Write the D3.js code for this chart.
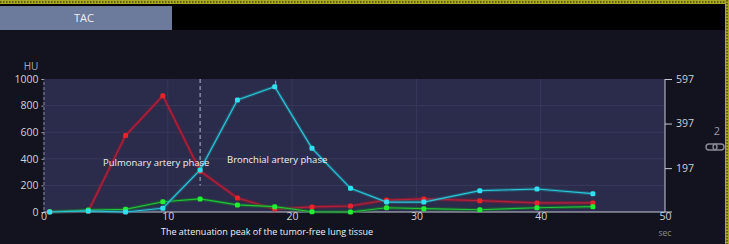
<!DOCTYPE html>
<html><head><meta charset="utf-8">
<script src="https://cdn.jsdelivr.net/npm/d3@7"></script>
<style>html,body{margin:0;padding:0;background:#13131f;overflow:hidden}</style>
</head><body>
<svg id="c" width="729" height="244"></svg>
<script>
const times = [0.5, 3.6, 6.6, 9.6, 12.6, 15.6, 18.6, 21.6, 24.7, 27.6, 30.6, 35.1, 39.7, 44.2];
const pulmonary = [2, 5, 575, 874, 308, 105, 22, 38, 45, 90, 98, 85, 68, 68];
const bronchial = [0, 8, 0, 28, 316, 842, 942, 479, 178, 75, 75, 160, 173, 138];
const lungTissue = [2, 15, 20, 77, 98, 53, 40, 2, 0, 32, 25, 17, 32, 40];
const xTicks = [0, 10, 20, 30, 40, 50];
const yTicksLeft = [0, 200, 400, 600, 800, 1000];
const yTicksRight = [197, 397, 597];
const markerTime = 12.6;
const labels = ["Pulmonary artery phase", "Bronchial artery phase", "The attenuation peak of the tumor-free lung tissue"];

const svg = d3.select("#c");
const font = "'Open Sans', 'DejaVu Sans', sans-serif";

// frame
svg.append("rect").attr("x",0).attr("y",0).attr("width",729).attr("height",244).attr("fill","#13131f");
svg.append("rect").attr("x",0).attr("y",4).attr("width",726).attr("height",26).attr("fill","#000");
svg.append("rect").attr("x",0).attr("y",6).attr("width",172).attr("height",24).attr("fill","#6c7b9c");
svg.append("text").attr("x",84).attr("y",22).attr("text-anchor","middle").attr("fill","#eef0f6")
  .attr("font-family",font).attr("font-size",11).text("TAC");
svg.append("rect").attr("x",0).attr("y",0).attr("width",729).attr("height",4).attr("fill","#aaa820");
svg.append("line").attr("x1",0).attr("x2",729).attr("y1",2).attr("y2",2).attr("stroke","#4a4a10").attr("stroke-width",1.5).attr("stroke-dasharray","1.5,1.5");
svg.append("rect").attr("x",725).attr("y",0).attr("width",4).attr("height",244).attr("fill","#aaa820");
svg.append("line").attr("x1",727).attr("x2",727).attr("y1",0).attr("y2",244).attr("stroke","#4a4a10").attr("stroke-width",1.5).attr("stroke-dasharray","1.5,1.5");

const x = d3.scaleLinear().domain([0,50]).range([43.5,665]);
const yL = d3.scaleLinear().domain([0,1000]).range([212,79]);
const yR = d3.scaleLinear().domain([0,597]).range([212,79]);

// plot bg
svg.append("rect").attr("x",x(0)).attr("y",yL(1000)).attr("width",x(50)-x(0)).attr("height",yL(0)-yL(1000)).attr("fill","#2b2b4b");

// grid
svg.append("g").selectAll("line").data(yTicksLeft.slice(1,-1)).join("line")
  .attr("x1",x(0)).attr("x2",x(50)).attr("y1",d=>yL(d)).attr("y2",d=>yL(d)).attr("stroke","#38385a").attr("stroke-width",1);
svg.append("g").selectAll("line").data(xTicks.slice(1,-1)).join("line")
  .attr("x1",d=>x(d)).attr("x2",d=>x(d)).attr("y1",yL(1000)).attr("y2",yL(0)).attr("stroke","#38385a").attr("stroke-width",1);

// left axis
const gL = svg.append("g").attr("transform",`translate(${x(0)},0)`)
  .call(d3.axisLeft(yL).tickValues(yTicksLeft).tickSize(2).tickPadding(3).tickFormat(d3.format("d")));
gL.select(".domain").attr("stroke","#8a8aa0").attr("stroke-dasharray","3,2");
gL.selectAll(".tick line").attr("stroke","#aaa");
gL.selectAll("text").attr("fill","#d0d0d8").attr("font-family",font).attr("font-size",10.5);
svg.append("text").attr("x",31).attr("y",70).attr("text-anchor","middle").attr("fill","#a8a8b4")
  .attr("font-family",font).attr("font-size",10).text("HU");

// bottom axis
const gB = svg.append("g").attr("transform",`translate(0,${yL(0)})`)
  .call(d3.axisBottom(x).tickValues(xTicks).tickSize(0).tickPadding(1).tickFormat(d3.format("d")));
gB.select(".domain").remove();
svg.append("line").attr("x1",x(0)).attr("x2",672).attr("y1",yL(0)).attr("y2",yL(0)).attr("stroke","#c8c8d4").attr("stroke-width",1.2);
gB.selectAll("text").attr("fill","#d0d0d8").attr("font-family",font).attr("font-size",10.5);
svg.append("text").attr("x",665).attr("y",236).attr("text-anchor","middle").attr("fill","#8a8a98")
  .attr("font-family",font).attr("font-size",8.5).text("sec");

// right axis
const gR = svg.append("g").attr("transform",`translate(${x(50)},0)`)
  .call(d3.axisRight(yR).tickValues(yTicksRight).tickSize(7).tickPadding(4));
gR.select(".domain").attr("stroke","#c8c8d4").attr("d",`M0,${yR(597)}V${yR(0)}`);
gR.selectAll(".tick line").attr("stroke","#c8c8d4");
gR.selectAll("text").attr("fill","#d0d0d8").attr("font-family",font).attr("font-size",10.5);

// side controls
svg.append("text").attr("x",717).attr("y",135).attr("text-anchor","middle").attr("fill","#9a9aa6")
  .attr("font-family",font).attr("font-size",11).text("2");
svg.append("rect").attr("x",706).attr("y",144).attr("width",11).attr("height",6).attr("rx",3).attr("fill","none").attr("stroke","#8a8a96").attr("stroke-width",1.4);
svg.append("rect").attr("x",713).attr("y",144).attr("width",11).attr("height",6).attr("rx",3).attr("fill","none").attr("stroke","#8a8a96").attr("stroke-width",1.4);

// marker line
svg.append("line").attr("x1",x(markerTime)).attr("x2",x(markerTime)).attr("y1",yL(1000)).attr("y2",yL(200)).attr("stroke","#a0a0b8").attr("stroke-width",1.2).attr("stroke-dasharray","4,3");

const series = [
  {vals: pulmonary, line:"#b5203e", band:"rgba(150,25,45,0.55)", pt:"#e8242a"},
  {vals: lungTissue, line:"#22c23a", band:"rgba(20,110,40,0.6)", pt:"#22ee33"},
  {vals: bronchial, line:"#2cc6d8", band:"rgba(30,120,140,0.5)", pt:"#2ee0f0"}
];
const line = d3.line().x((d,i)=>x(times[i])).y(d=>yL(d));
series.forEach(s=>{
  svg.append("path").attr("d",line(s.vals)).attr("fill","none").attr("stroke",s.band).attr("stroke-width",3.5);
  svg.append("path").attr("d",line(s.vals)).attr("fill","none").attr("stroke",s.line).attr("stroke-width",1.2);
});
series.forEach(s=>{
  svg.append("g").selectAll("rect").data(s.vals).join("rect")
    .attr("x",(d,i)=>x(times[i])-2.5).attr("y",d=>yL(d)-2.5).attr("width",5).attr("height",5).attr("rx",1.5)
    .attr("fill",s.pt);
});
// peak tick
const pk = d3.maxIndex(bronchial);
svg.append("line").attr("x1",x(times[pk])+1).attr("x2",x(times[pk])+1).attr("y1",yL(bronchial[pk])-6).attr("y2",yL(bronchial[pk])-2).attr("stroke","#2ee0f0").attr("stroke-width",1);

// annotations
svg.append("text").attr("x",103).attr("y",166).attr("fill","#f0f0f4").attr("font-family",font).attr("font-size",9.5).text(labels[0]);
svg.append("text").attr("x",227).attr("y",163).attr("fill","#f0f0f4").attr("font-family",font).attr("font-size",9.5).text(labels[1]);
svg.append("text").attr("x",161).attr("y",235).attr("fill","#f0f0f4").attr("font-family",font).attr("font-size",9).text(labels[2]);
</script>
</body></html>
